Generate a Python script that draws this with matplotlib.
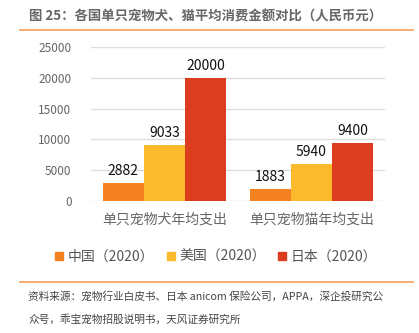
import matplotlib
matplotlib.use("Agg")
import matplotlib.pyplot as plt
from matplotlib.lines import Line2D
import numpy as np

plt.rcParams['font.family'] = ['Noto Sans CJK SC', 'DejaVu Sans']

# Data
categories = ['单只宠物犬年均支出', '单只宠物猫年均支出']
series_names = ['中国（2020）', '美国（2020）', '日本（2020）']
china = [2882, 1883]
usa = [9033, 5940]
japan = [20000, 9400]
colors = ['#F58220', '#FBBA2C', '#DC3D1E']

title = '图 25：各国单只宠物犬、猫平均消费金额对比（人民币元）'
source1 = '资料来源：宠物行业白皮书、日本 anicom 保险公司，APPA，深企投研究公'
source2 = '众号，乖宝宠物招股说明书，天风证券研究所'

fig = plt.figure(figsize=(4.19, 3.33), dpi=100)
W, H = 419, 333
ax = fig.add_axes([91 / W, 1 - 201 / H, (385 - 91) / W, (201 - 47) / H])

x = np.arange(len(categories))
bw = 0.28
for i, (vals, name) in enumerate(zip([china, usa, japan], series_names)):
    pos = x + (i - 1) * bw
    bars = ax.bar(pos, vals, width=bw, color=colors[i], label=name, zorder=3)
    for b, v in zip(bars, vals):
        ax.text(b.get_x() + b.get_width() / 2, v + 800, str(v),
                ha='center', va='bottom', fontsize=10, color='#111111')

ax.set_xlim(-0.5, 1.5)
ax.set_ylim(0, 25000)
ax.set_yticks(range(0, 25001, 5000))
ax.tick_params(axis='y', length=0, labelsize=8.5, labelcolor='#666666', pad=14)
ax.tick_params(axis='x', length=0, labelsize=10, labelcolor='#666666', pad=8)
ax.set_xticks(x)
ax.set_xticklabels(categories)
ax.grid(axis='y', color='#DDDDDD', linewidth=1, zorder=0)
for s in ax.spines.values():
    s.set_visible(False)

handles = [Line2D([], [], marker='s', linestyle='none', markersize=5.5,
                  markerfacecolor=c, markeredgecolor=c) for c in colors]
fig.legend(handles, series_names, loc='center', bbox_to_anchor=(216 / W, 1 - 257 / H),
           ncol=3, frameon=False, fontsize=10, handlelength=0.6, handletextpad=0.3,
           columnspacing=0.9, labelcolor='#555555')

# Title and rules
fig.text(29 / W, 1 - 16 / H, title, fontsize=9.6, fontweight='bold', color='#666666',
         va='center', ha='left')
fig.add_artist(Line2D([20 / W, 413 / W], [1 - 29.5 / H, 1 - 29.5 / H], color='#F5A05A', linewidth=1.2))
fig.add_artist(Line2D([20 / W, 413 / W], [1 - 282 / H, 1 - 282 / H], color='#F5A05A', linewidth=1.2))

fig.text(28 / W, 1 - 296 / H, source1, fontsize=7.7, color='#444444', va='center', ha='left')
fig.text(28 / W, 1 - 320 / H, source2, fontsize=7.7, color='#444444', va='center', ha='left')

plt.savefig('out.png', dpi=100)
